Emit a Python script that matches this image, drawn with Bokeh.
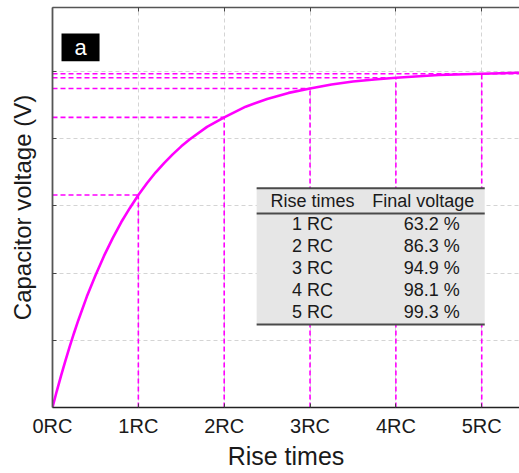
from bokeh.plotting import figure
from bokeh.models import Range1d, FixedTicker, LinearAxis, CustomJSTickFormatter
from bokeh.core.properties import value
from bokeh.embed import file_html
from bokeh.resources import INLINE

# ---- data ----
rc_ticks = [0, 1, 2, 3, 4, 5]
rc_tick_labels = ["0RC", "1RC", "2RC", "3RC", "4RC", "5RC"]
v_ticks = [0.2, 0.4, 0.6, 0.8, 1.0]

rise_times = [1, 2, 3, 4, 5]
rise_labels = ["1 RC", "2 RC", "3 RC", "4 RC", "5 RC"]
final_voltage_pct = [63.2, 86.3, 94.9, 98.1, 99.3]
final_voltage_txt = ["63.2 %", "86.3 %", "94.9 %", "98.1 %", "99.3 %"]

curve_t = [0, 0.05, 0.1, 0.15, 0.2, 0.25, 0.3, 0.4, 0.5, 0.6, 0.7, 0.8, 0.9,
           1.0, 1.1, 1.2, 1.3, 1.4, 1.5, 1.6, 1.8, 2.0, 2.25, 2.5, 2.75, 3.0,
           3.25, 3.5, 3.75, 4.0, 4.5, 5.0, 5.44]
curve_v = [0, 0.049, 0.095, 0.139, 0.181, 0.221, 0.259, 0.330, 0.393, 0.451,
           0.503, 0.551, 0.593, 0.632, 0.667, 0.699, 0.727, 0.753, 0.777,
           0.798, 0.835, 0.863, 0.895, 0.918, 0.936, 0.949, 0.961, 0.970,
           0.976, 0.981, 0.989, 0.993, 0.996]

X_END = 5.44
Y_END = 1.19
MAG = "#ff00ff"
FONT = "Liberation Sans"

p = figure(width=519, height=473,
           x_range=Range1d(0, X_END), y_range=Range1d(0, Y_END),
           output_backend="svg", toolbar_location=None,
           min_border_left=52, min_border_right=0, min_border_top=7,
           min_border_bottom=66,
           x_axis_label="Rise times", y_axis_label="Capacitor voltage (V)")
p.outline_line_color = None
p.background_fill_color = "white"
p.border_fill_color = "white"

# x axis
xa = p.xaxis[0]
xa.ticker = FixedTicker(ticks=rc_ticks)
xa.major_label_overrides = {t: l for t, l in zip(rc_ticks, rc_tick_labels)}
xa.major_tick_in = 4
xa.major_tick_out = 0
xa.minor_tick_line_color = None
xa.axis_line_color = "#222222"
xa.axis_line_width = 1.5
xa.major_tick_line_color = "#444444"
xa.major_label_text_font = FONT
xa.major_label_text_font_size = "20px"
xa.major_label_text_color = "#1a1a1a"
xa.major_label_standoff = 7
xa.axis_label_text_font = FONT
xa.axis_label_text_font_size = "25px"
xa.axis_label_text_font_style = "normal"
xa.axis_label_text_color = "#1a1a1a"
xa.axis_label_standoff = 2

# y axis
ya = p.yaxis[0]
ya.ticker = FixedTicker(ticks=v_ticks)
ya.formatter = CustomJSTickFormatter(code="return ''")
ya.major_label_text_font_size = "0px"
ya.major_label_standoff = 0
ya.major_tick_in = 4
ya.major_tick_out = 0
ya.minor_tick_line_color = None
ya.axis_line_color = "#555555"
ya.axis_line_width = 1.8
ya.major_tick_line_color = "#444444"
ya.axis_label_text_font = FONT
ya.axis_label_text_font_size = "24px"
ya.axis_label_text_font_style = "normal"
ya.axis_label_text_color = "#1a1a1a"
ya.axis_label_standoff = 17

# top border axis
top = LinearAxis(ticker=FixedTicker(ticks=rc_ticks),
                 formatter=CustomJSTickFormatter(code="return ''"),
                 major_label_text_font_size="0px", major_label_standoff=0,
                 major_tick_in=4, major_tick_out=0,
                 minor_tick_line_color=None, axis_line_color="#555555",
                 axis_line_width=1.5, major_tick_line_color="#444444")
p.add_layout(top, "above")

# grid
p.xgrid.ticker = FixedTicker(ticks=rc_ticks)
p.ygrid.ticker = FixedTicker(ticks=v_ticks)
for g in (p.xgrid[0], p.ygrid[0]):
    g.grid_line_color = "#d4d4d4"
    g.grid_line_dash = "4 3"
    g.grid_line_width = 1

# dashed guide lines
fv = [v / 100 for v in final_voltage_pct]
h_x1 = rise_times[:-1] + [X_END]
p.segment(x0=[0] * len(rise_times), x1=h_x1, y0=fv, y1=fv,
          line_color=MAG, line_width=1.6, line_dash="5 3")
p.segment(x0=rise_times, x1=rise_times, y0=[0] * len(rise_times), y1=fv,
          line_color=MAG, line_width=1.6, line_dash="5 3")

# curve
p.line(curve_t, curve_v, line_color=MAG, line_width=2.6)

# table
T_L, T_R = 2.378, 5.035
T_TOP, T_SEP, T_BOT = 0.652, 0.577, 0.247
p.quad(left=[T_L], right=[T_R], bottom=[T_BOT], top=[T_TOP],
       fill_color="#e6e6e6", line_color=None)
p.segment(x0=[T_L] * 3, x1=[T_R] * 3, y0=[T_TOP, T_SEP, T_BOT],
          y1=[T_TOP, T_SEP, T_BOT], line_color="#4a4a4a", line_width=2)
COL1, COL2, COL2H = 3.03, 4.417, 4.32
HDR_Y = 0.613
ROW_Y0, ROW_DY = 0.545, 0.0655
row_y = [ROW_Y0 - i * ROW_DY for i in range(len(rise_labels))]
p.text(x=[COL1, COL2H], y=[HDR_Y, HDR_Y], text=["Rise times", "Final voltage"],
       text_align="center", text_baseline="middle",
       text_font=value(FONT), text_font_size="18px", text_color="#1a1a1a")
p.text(x=[COL1] * len(rise_labels), y=row_y, text=rise_labels,
       text_align="center", text_baseline="middle",
       text_font=value(FONT), text_font_size="18px", text_color="#1a1a1a")
p.text(x=[COL2] * len(final_voltage_txt), y=row_y, text=final_voltage_txt,
       text_align="center", text_baseline="middle",
       text_font=value(FONT), text_font_size="18px", text_color="#1a1a1a")

# panel label "a"
p.quad(left=[0.105], right=[0.548], bottom=[1.030], top=[1.113],
       fill_color="black", line_color=None)
p.text(x=[0.3265], y=[1.0715], text=["a"], text_align="center",
       text_baseline="middle", text_font=value(FONT), text_font_size="22px",
       text_color="white")

open("out.html", "w").write(file_html(p, INLINE))
